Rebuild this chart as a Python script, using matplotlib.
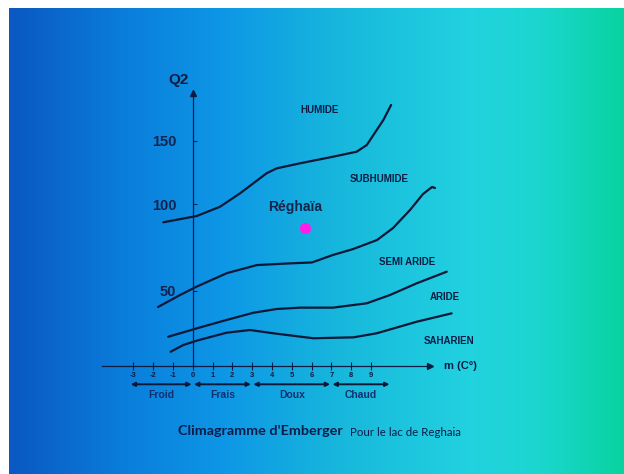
import numpy as np
import matplotlib
matplotlib.use('Agg')
import matplotlib.pyplot as plt
from matplotlib.colors import LinearSegmentedColormap

# boundary curves of the Emberger climagram, m (deg C) vs Q2
humide_m = [-1.49, 0.20, 1.37, 2.39, 3.73, 4.24, 5.42, 7.08, 8.28, 8.79, 9.63, 10.02]
humide_q = [89.5, 93.1, 98.4, 108.5, 124.4, 128.3, 132.3, 137.5, 141.5, 146.8, 166.7, 178.6]

subhum_m = [-1.76, -0.65, 0.21, 1.73, 3.24, 4.76, 6.02, 7.08, 8.10, 9.31, 10.12, 10.98, 11.63, 12.09, 12.24]
subhum_q = [39.3, 47.3, 52.6, 60.3, 64.9, 65.8, 66.4, 70.7, 74.1, 79.3, 86.2, 96.6, 107.9, 113.5, 112.7]

semi_m = [-1.24, 0.20, 1.71, 3.06, 4.24, 5.42, 7.08, 8.79, 9.96, 11.31, 12.83]
semi_q = [19.5, 25.1, 30.7, 35.5, 38.0, 38.9, 38.9, 41.8, 47.3, 54.4, 61.1]

aride_m = [-1.12, -0.48, 0.20, 1.71, 2.89, 4.07, 6.09, 8.11, 9.29, 11.31, 13.08]
aride_q = [9.5, 14.0, 16.9, 22.2, 24.0, 21.8, 18.5, 19.1, 21.8, 29.5, 35.1]

# étages (label, m, Q2)
etages = ['HUMIDE', 'SUBHUMIDE', 'SEMI ARIDE', 'ARIDE', 'SAHARIEN']
etage_m = [6.43, 9.43, 10.85, 12.74, 12.97]
etage_q = [174.6, 119.8, 66.7, 46.2, 16.7]

# station
station = 'Réghaïa'
station_m = 5.67
station_q = 86.2

# winter variants
zones = ['Froid', 'Frais', 'Doux', 'Chaud']
zone_bounds = [-3.2, 0, 3, 7, 10]

x_ticks = list(range(-3, 10))
y_ticks = [50, 100, 150]

navy = '#0c1c44'
line_col = '#0a1838'
font = 'Liberation Sans'

# hand drawn Q2 axis is not linear -> piecewise scale
H = np.array([-150, 0, 75, 162, 225, 351])
Q = np.array([-100, 0, 50, 100, 150, 250])

def fwd(q):
    return np.interp(q, Q, H)

def inv(h):
    return np.interp(h, H, Q)


fig = plt.figure(figsize=(6.24, 4.74), dpi=100, facecolor='white')

# gradient background
bg = fig.add_axes([9 / 624, 0, 615 / 624, 466 / 474])
cmap = LinearSegmentedColormap.from_list('bg', [
    (0.0, '#0b58c2'), (0.2, '#0a80dc'), (0.35, '#0e97e6'), (0.55, '#18b9dc'),
    (0.75, '#22d2e0'), (0.86, '#1cd6d0'), (1.0, '#08d3a0')])
bg.imshow(np.linspace(0, 1, 256).reshape(1, -1), aspect='auto', cmap=cmap,
          extent=[0, 1, 0, 1])
bg.set_axis_off()

# main axes, x: px = 192.8 + 19.79*m, bottom at py 366
x0, x1 = -5, 14.5
left_px = 192.8 + 19.79 * x0
right_px = 192.8 + 19.79 * x1
y_top = 195
ax = fig.add_axes([left_px / 624, (474 - 366) / 474,
                   (right_px - left_px) / 624, fwd(y_top) / 474])
ax.set_facecolor('none')
ax.set_yscale('function', functions=(fwd, inv))
ax.set_xlim(x0, x1)
ax.set_ylim(0, y_top)

for s in ['top', 'right']:
    ax.spines[s].set_visible(False)
ax.spines['left'].set_position(('data', 0))
ax.spines['left'].set_bounds(0, 188)
ax.spines['bottom'].set_bounds(-4.6, 12)
for s in ['left', 'bottom']:
    ax.spines[s].set_color(navy)
    ax.spines[s].set_linewidth(0.9)

# arrow heads
ax.plot([12], [0], marker='>', color=navy, ms=5, clip_on=False)
ax.plot([0], [188], marker='^', color=navy, ms=5, clip_on=False)

ax.set_xticks(x_ticks)
ax.set_xticklabels([str(t) for t in x_ticks], fontsize=5.5, fontweight='bold',
                   color=navy, family=font)
ax.tick_params(axis='x', direction='inout', length=6, width=0.8, color=navy, pad=1)

ax.set_yticks(y_ticks)
ax.set_yticklabels([str(t) for t in y_ticks], fontsize=10.5, fontweight='bold',
                   color='#10244f', family=font)
ax.tick_params(axis='y', direction='in', length=3, width=0.7, color=navy, pad=12)
ax.minorticks_off()

# curves
for xm, yq in [(humide_m, humide_q), (subhum_m, subhum_q),
               (semi_m, semi_q), (aride_m, aride_q)]:
    ax.plot(xm, yq, color=line_col, lw=1.6, clip_on=False, solid_capstyle='round')

for name, xm, yq in zip(etages, etage_m, etage_q):
    ax.text(xm, yq, name, ha='center', va='center', fontsize=7,
            fontweight='bold', color=navy, family=font)

ax.plot(station_m, station_q, 'o', color='#ff1ee8', ms=8, mec='none')
ax.annotate(station, (station_m, station_q), xytext=(-7, 15),
            textcoords='offset points', ha='center', va='center', fontsize=10,
            fontweight='bold', color='#14244a', family=font)

ax.text(-0.7, 1.015, 'Q2', transform=ax.get_xaxis_transform(), ha='center',
        va='center', fontsize=11, fontweight='bold', color=navy, family=font)
ax.annotate('m (C°)', (12, 0), xytext=(22, 0), textcoords='offset points',
            ha='center', va='center', fontsize=8, fontweight='bold', color=navy,
            family=font, annotation_clip=False)

# Froid / Frais / Doux / Chaud arrows
for i, z in enumerate(zones):
    a, b = zone_bounds[i] + 0.06, zone_bounds[i + 1] - 0.06
    ax.annotate('', xy=(a, -12.2), xytext=(b, -12.2),
                arrowprops=dict(arrowstyle='<|-|>', color=line_col, lw=1.4,
                                mutation_scale=6, shrinkA=0, shrinkB=0),
                annotation_clip=False)
    ax.text((a + b) / 2, -19.5, z, ha='center', va='center', fontsize=7.5,
            fontweight='bold', color='#133070', family=font, clip_on=False)

fig.text(178 / 624, 1 - 431 / 474, "Climagramme d'Emberger", ha='left', va='center',
         fontsize=10.4, fontweight='bold', color='#0d1d4a', family='Lato')
fig.text(350 / 624, 1 - 432 / 474, 'Pour le lac de Reghaia', ha='left', va='center',
         fontsize=8.3, color='#0d1d4a', family='Lato')

fig.savefig('out.png', dpi=100, facecolor='white')
